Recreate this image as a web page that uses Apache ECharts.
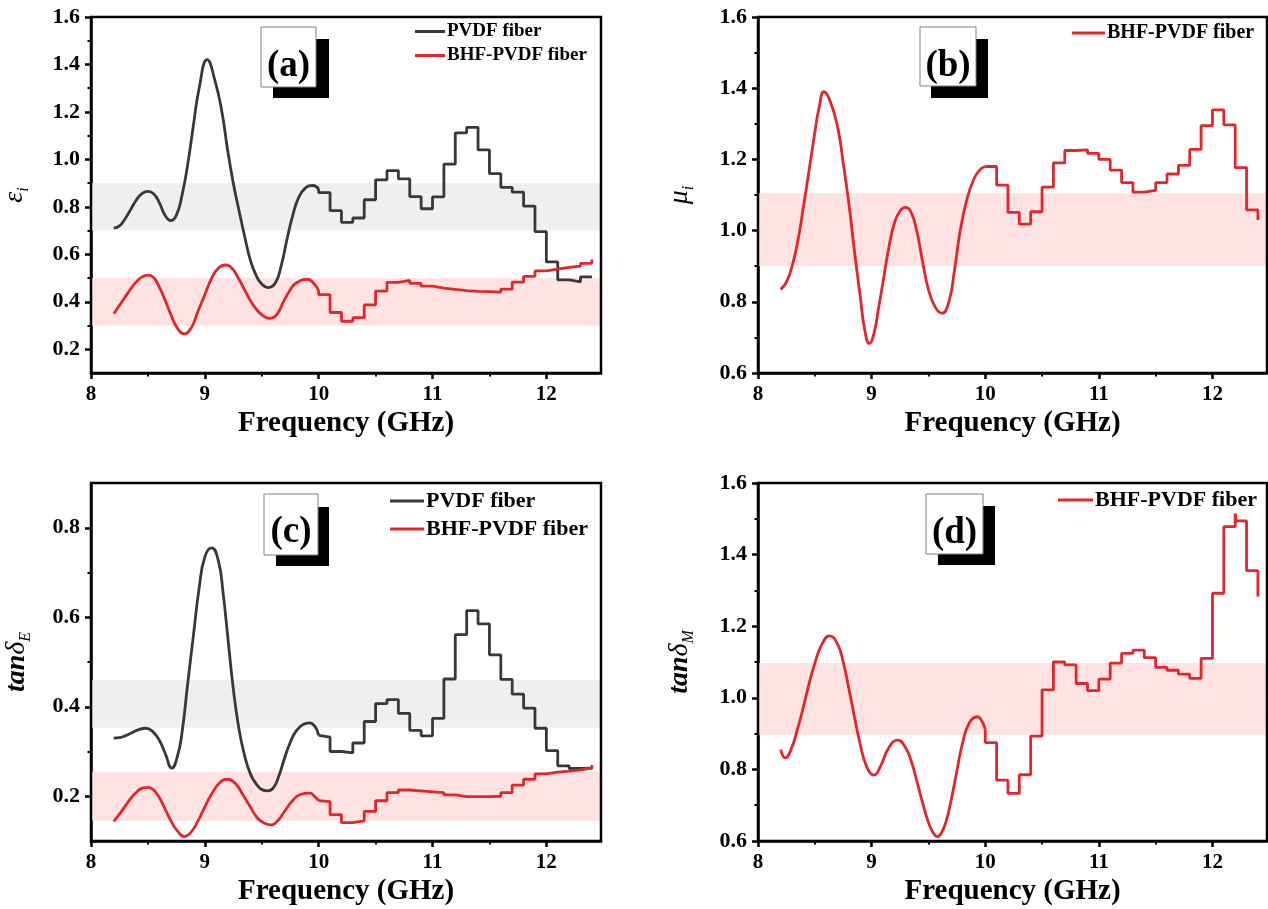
<!DOCTYPE html>
<html><head><meta charset="utf-8">
<script src="https://cdn.jsdelivr.net/npm/echarts@6/dist/echarts.min.js"></script>
<style>html,body{margin:0;padding:0;background:#fff}#c{width:1268px;height:909px}</style>
</head><body><div id="c"></div>
<script>
// ---------- tick labels ----------
const FREQ_LABELS = [8, 9, 10, 11, 12];
const FREQ_MINOR = [8.5, 9.5, 10.5, 11.5];
const A_Y_LABELS = [0.2, 0.4, 0.6, 0.8, 1.0, 1.2, 1.4, 1.6];
const A_Y_MINOR = [0.3, 0.5, 0.7, 0.9, 1.1, 1.3, 1.5];
const B_Y_LABELS = [0.6, 0.8, 1.0, 1.2, 1.4, 1.6];
const B_Y_MINOR = [0.7, 0.9, 1.1, 1.3, 1.5];
const C_Y_LABELS = [0.2, 0.4, 0.6, 0.8];
const C_Y_MINOR = [0.3, 0.5, 0.7];
const D_Y_LABELS = [0.6, 0.8, 1.0, 1.2, 1.4, 1.6];
const D_Y_MINOR = [0.7, 0.9, 1.1, 1.3, 1.5];

// ---------- shaded bands [low, high] ----------
const A_BAND_PVDF = [0.7, 0.9];
const A_BAND_BHF = [0.3, 0.5];
const B_BAND_BHF = [0.9, 1.105];
const C_BAND_PVDF = [0.353, 0.46];
const C_BAND_BHF = [0.145, 0.255];
const D_BAND_BHF = [0.897, 1.097];

// ---------- step-region frequencies (GHz) ----------
const STEP_F = [10.0, 10.1, 10.2, 10.3, 10.4, 10.5, 10.6, 10.7, 10.8, 10.9, 11.0, 11.1, 11.2,
  11.3, 11.4, 11.5, 11.6, 11.7, 11.8, 11.9, 12.0, 12.1, 12.2, 12.3, 12.4];
const D_STEP_F = [10.0, 10.1, 10.2, 10.3, 10.4, 10.5, 10.6, 10.7, 10.8, 10.9, 11.0, 11.1, 11.2,
  11.3, 11.4, 11.5, 11.6, 11.7, 11.8, 11.9, 12.0, 12.1, 12.2, 12.21, 12.3, 12.4];

// ---------- (a) epsilon'' ----------
const A_PVDF_SMOOTH_F = [8.2, 8.25, 8.3, 8.35, 8.4, 8.45, 8.5, 8.55, 8.6, 8.65, 8.7, 8.75, 8.8,
  8.85, 8.9, 8.95, 9.02, 9.09, 9.15, 9.2, 9.25, 9.3, 9.35, 9.4, 9.45, 9.5, 9.56, 9.62, 9.67, 9.72,
  9.77, 9.82, 9.88, 9.95, 10.0];
const A_PVDF_SMOOTH_V = [0.71, 0.72, 0.75, 0.79, 0.83, 0.857, 0.865, 0.855, 0.818, 0.765, 0.742,
  0.765, 0.85, 0.98, 1.145, 1.3, 1.42, 1.33, 1.2, 1.04, 0.9, 0.785, 0.675, 0.575, 0.512, 0.475,
  0.46, 0.48, 0.55, 0.66, 0.76, 0.835, 0.878, 0.89, 0.875];
const A_PVDF_STEP_V = [0.86, 0.784, 0.735, 0.753, 0.83, 0.914, 0.953, 0.918, 0.843, 0.792, 0.842,
  0.98, 1.112, 1.135, 1.04, 0.94, 0.882, 0.862, 0.803, 0.696, 0.568, 0.492, 0.484, 0.505, 0.505];
const A_BHF_SMOOTH_F = [8.2, 8.25, 8.3, 8.35, 8.4, 8.45, 8.5, 8.55, 8.6, 8.65, 8.7, 8.76, 8.82,
  8.88, 8.94, 9.0, 9.06, 9.12, 9.18, 9.24, 9.3, 9.35, 9.4, 9.45, 9.51, 9.57, 9.63, 9.69, 9.75,
  9.8, 9.9, 9.97, 10.0];
const A_BHF_SMOOTH_V = [0.35, 0.385, 0.42, 0.455, 0.485, 0.505, 0.512, 0.502, 0.462, 0.408, 0.348,
  0.288, 0.265, 0.29, 0.36, 0.43, 0.5, 0.542, 0.555, 0.54, 0.495, 0.45, 0.405, 0.37, 0.342, 0.33,
  0.345, 0.4, 0.45, 0.478, 0.495, 0.47, 0.445];
const A_BHF_STEP_V = [0.43, 0.355, 0.318, 0.333, 0.387, 0.445, 0.482, 0.49, 0.478, 0.466, 0.458,
  0.452, 0.447, 0.444, 0.443, 0.441, 0.453, 0.483, 0.507, 0.53, 0.538, 0.545, 0.55, 0.562, 0.578];

// ---------- (b) mu'' ----------
const B_BHF_SMOOTH_F = [8.2, 8.25, 8.3, 8.35, 8.4, 8.45, 8.5, 8.54, 8.58, 8.63, 8.7, 8.75, 8.8,
  8.85, 8.9, 8.94, 8.98, 9.02, 9.06, 9.1, 9.15, 9.2, 9.25, 9.3, 9.35, 9.4, 9.45, 9.5, 9.56, 9.62,
  9.68, 9.73, 9.78, 9.84, 9.9, 9.95, 10.0];
const B_BHF_SMOOTH_V = [0.835, 0.855, 0.9, 0.97, 1.067, 1.17, 1.275, 1.35, 1.39, 1.368, 1.292,
  1.19, 1.075, 0.94, 0.815, 0.72, 0.683, 0.71, 0.78, 0.855, 0.95, 1.02, 1.055, 1.065, 1.05, 0.995,
  0.91, 0.835, 0.785, 0.768, 0.8, 0.89, 1.0, 1.09, 1.145, 1.17, 1.18];
const B_BHF_STEP_V = [1.18, 1.128, 1.051, 1.018, 1.053, 1.122, 1.19, 1.225, 1.227, 1.217, 1.2,
  1.17, 1.135, 1.108, 1.113, 1.135, 1.159, 1.183, 1.228, 1.295, 1.339, 1.297, 1.177, 1.058, 1.03];

// ---------- (c) tan delta E ----------
const C_PVDF_SMOOTH_F = [8.2, 8.25, 8.3, 8.36, 8.42, 8.48, 8.54, 8.6, 8.65, 8.71, 8.76, 8.8, 8.85,
  8.9, 8.95, 9.0, 9.06, 9.12, 9.16, 9.2, 9.25, 9.3, 9.35, 9.4, 9.45, 9.5, 9.55, 9.6, 9.65, 9.7,
  9.75, 9.8, 9.86, 9.92, 9.97, 10.0];
const C_PVDF_SMOOTH_V = [0.33, 0.331, 0.335, 0.342, 0.349, 0.352, 0.345, 0.325, 0.297, 0.263,
  0.29, 0.343, 0.453, 0.56, 0.665, 0.735, 0.755, 0.725, 0.655, 0.56, 0.44, 0.35, 0.29, 0.25, 0.228,
  0.215, 0.212, 0.218, 0.245, 0.285, 0.32, 0.345, 0.36, 0.364, 0.355, 0.336];
const C_PVDF_STEP_V = [0.332, 0.3, 0.297, 0.319, 0.367, 0.407, 0.416, 0.385, 0.347, 0.335, 0.374,
  0.462, 0.561, 0.615, 0.585, 0.516, 0.461, 0.428, 0.397, 0.352, 0.302, 0.268, 0.262, 0.263, 0.265];
const C_BHF_SMOOTH_F = [8.2, 8.25, 8.3, 8.35, 8.4, 8.45, 8.5, 8.55, 8.6, 8.65, 8.7, 8.76, 8.82,
  8.88, 8.94, 9.0, 9.06, 9.13, 9.2, 9.27, 9.33, 9.4, 9.46, 9.52, 9.58, 9.64, 9.7, 9.77, 9.84, 9.92,
  9.97, 10.0];
const C_BHF_SMOOTH_V = [0.144, 0.16, 0.178, 0.195, 0.209, 0.218, 0.22, 0.214, 0.197, 0.172, 0.146,
  0.122, 0.11, 0.12, 0.145, 0.176, 0.205, 0.23, 0.238, 0.228, 0.205, 0.176, 0.152, 0.14, 0.136,
  0.145, 0.166, 0.19, 0.204, 0.207, 0.198, 0.19];
const C_BHF_STEP_V = [0.188, 0.159, 0.141, 0.145, 0.166, 0.19, 0.208, 0.214, 0.212, 0.21, 0.208,
  0.203, 0.199, 0.199, 0.199, 0.2, 0.208, 0.225, 0.238, 0.25, 0.254, 0.256, 0.259, 0.263, 0.27];

// ---------- (d) tan delta M ----------
const D_BHF_SMOOTH_F = [8.2, 8.24, 8.29, 8.35, 8.4, 8.45, 8.5, 8.56, 8.63, 8.7, 8.75, 8.8, 8.85,
  8.9, 8.96, 9.02, 9.08, 9.15, 9.23, 9.3, 9.35, 9.4, 9.45, 9.5, 9.54, 9.58, 9.62, 9.66, 9.7, 9.75,
  9.8, 9.86, 9.93, 9.97, 10.0];
const D_BHF_SMOOTH_V = [0.855, 0.832, 0.855, 0.915, 0.975, 1.04, 1.096, 1.148, 1.173, 1.15, 1.1,
  1.025, 0.945, 0.87, 0.805, 0.784, 0.81, 0.86, 0.882, 0.86, 0.822, 0.765, 0.705, 0.652, 0.624,
  0.612, 0.626, 0.66, 0.714, 0.795, 0.873, 0.93, 0.947, 0.935, 0.912];
const D_BHF_STEP_V = [0.875, 0.77, 0.733, 0.785, 0.893, 1.022, 1.1, 1.092, 1.04, 1.02, 1.052,
  1.097, 1.124, 1.133, 1.112, 1.085, 1.077, 1.066, 1.054, 1.11, 1.292, 1.478, 1.515, 1.494, 1.355, 1.283];

// ---------- styling ----------
const FONT = 'Liberation Serif';
const BLACK = '#383838';
const RED = '#e3262b';
const GREY_BAND = '#efefef';
const PINK_BAND = '#ffe3e3';
const X_MIN = 8, X_MAX = 12.48;

const GRIDS = [
  { left: 91, top: 17, width: 510, height: 356 },
  { left: 758, top: 17, width: 509, height: 356 },
  { left: 91, top: 483, width: 510, height: 358 },
  { left: 758, top: 483, width: 509, height: 358 }
];
const Y_CFG = [
  { min: 0.1, max: 1.6, labels: A_Y_LABELS, minor: A_Y_MINOR, gap: 59, name: '{m|ε}{s|i}' },
  { min: 0.6, max: 1.6, labels: B_Y_LABELS, minor: B_Y_MINOR, gap: 61, name: '{m|μ}{s|i}' },
  { min: 0.1, max: 0.9, labels: C_Y_LABELS, minor: C_Y_MINOR, gap: 57, name: '{t|tan}{d|δ}{s|E}' },
  { min: 0.6, max: 1.6, labels: D_Y_LABELS, minor: D_Y_MINOR, gap: 61, name: '{t|tan}{d|δ}{s|M}' }
];
const RICH = {
  m: { fontFamily: FONT, fontStyle: 'italic', fontSize: 28, lineHeight: 34, verticalAlign: 'middle', color: '#000' },
  t: { fontFamily: FONT, fontStyle: 'italic', fontWeight: 'bold', fontSize: 28, lineHeight: 34, verticalAlign: 'middle', color: '#000' },
  d: { fontFamily: FONT, fontStyle: 'italic', fontSize: 28, lineHeight: 34, verticalAlign: 'middle', color: '#000' },
  s: { fontFamily: FONT, fontStyle: 'italic', fontSize: 16, lineHeight: 34, verticalAlign: 'bottom', color: '#000' }
};

const labelStyle = { color: '#000', fontFamily: FONT, fontWeight: 'bold' };
const xAxis = [], yAxis = [];
GRIDS.forEach((g, i) => {
  xAxis.push({
    type: 'value', gridIndex: i, min: X_MIN, max: X_MAX, position: 'bottom',
    name: 'Frequency (GHz)', nameLocation: 'middle', nameGap: 36,
    nameTextStyle: { ...labelStyle, fontSize: 29 },
    axisLine: { show: true, lineStyle: { color: '#000', width: 2.5 } },
    axisTick: { show: true, inside: false, length: 6, customValues: FREQ_LABELS, lineStyle: { color: '#000', width: 2.5 } },
    axisLabel: { show: true, customValues: FREQ_LABELS, margin: 11, fontSize: 21, ...labelStyle, formatter: v => String(Math.round(v)) },
    splitLine: { show: false }
  });
  const yc = Y_CFG[i];
  yAxis.push({
    type: 'value', gridIndex: i, min: yc.min, max: yc.max, position: 'left',
    name: yc.name, nameLocation: 'middle', nameGap: yc.gap, nameRotate: 90,
    nameTextStyle: { rich: RICH },
    axisLine: { show: true, lineStyle: { color: '#000', width: 2.5 } },
    axisTick: { show: true, inside: false, length: 6, customValues: yc.labels, lineStyle: { color: '#000', width: 2.5 } },
    axisLabel: { show: true, customValues: yc.labels, margin: 11, fontSize: 22, ...labelStyle, formatter: v => v.toFixed(1) },
    splitLine: { show: false }
  });
});
// minor tick axes
GRIDS.forEach((g, i) => {
  xAxis.push({
    type: 'value', gridIndex: i, min: X_MIN, max: X_MAX, position: 'bottom', offset: 0,
    axisLine: { show: false }, axisLabel: { show: false }, splitLine: { show: false },
    axisTick: { show: true, inside: false, length: 3.5, customValues: FREQ_MINOR, lineStyle: { color: '#000', width: 2 } }
  });
  const yc = Y_CFG[i];
  yAxis.push({
    type: 'value', gridIndex: i, min: yc.min, max: yc.max, position: 'left', offset: 0,
    axisLine: { show: false }, axisLabel: { show: false }, splitLine: { show: false },
    axisTick: { show: true, inside: false, length: 3.5, customValues: yc.minor, lineStyle: { color: '#000', width: 2 } }
  });
});

function zip(f, v) { return f.map((x, k) => [x, v[k]]); }
function band(range, color) {
  return [{ yAxis: range[0], itemStyle: { color: color } }, { yAxis: range[1] }];
}
const series = [];
function curve(name, color, gi, sf, sv, stf, stv, bands) {
  const common = {
    name: name, type: 'line', xAxisIndex: gi, yAxisIndex: gi, color: color,
    showSymbol: false, symbol: 'none', animation: false, silent: true,
    lineStyle: { color: color, width: 2.8 }, z: 3
  };
  const s1 = { ...common, data: zip(sf, sv), smooth: 0.5 };
  if (bands) s1.markArea = { silent: true, z: 1, label: { show: false }, data: bands };
  series.push(s1);
  const stepData = [[sf[sf.length - 1], sv[sv.length - 1]]].concat(zip(stf, stv));
  series.push({ ...common, data: stepData, step: 'end' });
}
curve('PVDF fiber', BLACK, 0, A_PVDF_SMOOTH_F, A_PVDF_SMOOTH_V, STEP_F, A_PVDF_STEP_V,
  [band(A_BAND_PVDF, GREY_BAND), band(A_BAND_BHF, PINK_BAND)]);
curve('BHF-PVDF fiber', RED, 0, A_BHF_SMOOTH_F, A_BHF_SMOOTH_V, STEP_F, A_BHF_STEP_V, null);
curve('BHF-PVDF fiber', RED, 1, B_BHF_SMOOTH_F, B_BHF_SMOOTH_V, STEP_F, B_BHF_STEP_V,
  [band(B_BAND_BHF, PINK_BAND)]);
curve('PVDF fiber', BLACK, 2, C_PVDF_SMOOTH_F, C_PVDF_SMOOTH_V, STEP_F, C_PVDF_STEP_V,
  [band(C_BAND_PVDF, GREY_BAND), band(C_BAND_BHF, PINK_BAND)]);
curve('BHF-PVDF fiber', RED, 2, C_BHF_SMOOTH_F, C_BHF_SMOOTH_V, STEP_F, C_BHF_STEP_V, null);
curve('BHF-PVDF fiber', RED, 3, D_BHF_SMOOTH_F, D_BHF_SMOOTH_V, D_STEP_F, D_BHF_STEP_V,
  [band(D_BAND_BHF, PINK_BAND)]);

function legend(left, top, w, fs, gap, names) {
  return {
    left: left, top: top, orient: 'vertical', padding: 0, itemGap: gap,
    itemWidth: w, itemHeight: 3, icon: 'rect', selectedMode: false,
    textStyle: { color: '#000', fontFamily: FONT, fontWeight: 'bold', fontSize: fs, padding: [0, 0, 0, -3] },
    data: names
  };
}
const legends = [
  legend(415, 22, 30, 19, 5, ['PVDF fiber', 'BHF-PVDF fiber']),
  legend(1072, 23, 33, 20, 5, ['BHF-PVDF fiber']),
  legend(390, 490, 34, 22, 6, ['PVDF fiber', 'BHF-PVDF fiber']),
  legend(1058, 489, 35, 22, 6, ['BHF-PVDF fiber'])
];

function tag(txt, bx, by, bw, bh, sx, sy, sw, sh, ty) {
  return [
    { type: 'rect', shape: { x: sx, y: sy, width: sw, height: sh }, style: { fill: '#000' }, z: 20 },
    { type: 'rect', shape: { x: bx, y: by, width: bw, height: bh }, style: { fill: '#fff', stroke: '#808080', lineWidth: 1 }, z: 21 },
    { type: 'text', x: bx + bw / 2, y: ty, z: 22,
      style: { text: txt, font: 'bold 37px "Liberation Serif"', fill: '#000', textAlign: 'center', textVerticalAlign: 'middle' } }
  ];
}
const graphic = [].concat(
  tag('(a)', 261, 27, 55, 60, 273, 39, 56, 59, 66),
  tag('(b)', 920, 27, 56, 59, 931, 39, 57, 59, 66),
  tag('(c)', 264, 494, 54, 61, 276, 507, 53, 59, 532),
  tag('(d)', 926, 494, 57, 60, 938, 506, 57, 59, 533)
);

const chart = echarts.init(document.getElementById('c'), null, { renderer: 'canvas' });
chart.setOption({
  animation: false,
  backgroundColor: '#fff',
  grid: GRIDS.map(g => ({ ...g, show: true, borderColor: '#000', borderWidth: 2.5, backgroundColor: 'transparent', z: 10 })),
  xAxis: xAxis,
  yAxis: yAxis,
  legend: legends,
  series: series,
  graphic: graphic
});
</script></body></html>
